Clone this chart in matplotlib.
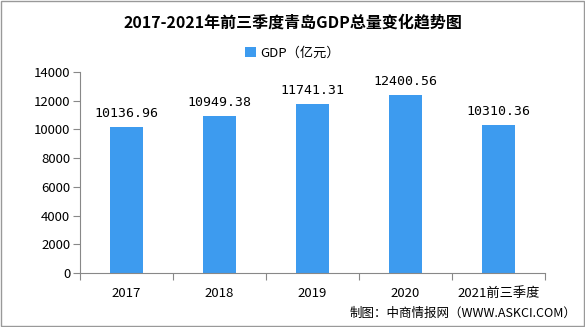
import matplotlib.pyplot as plt
import numpy as np

plt.rcParams['font.family'] = ['Noto Sans CJK SC', 'DejaVu Sans']

years = ["2017", "2018", "2019", "2020", "2021前三季度"]
gdp = [10136.96, 10949.38, 11741.31, 12400.56, 10310.36]
yticks = np.arange(0, 14001, 2000)

fig = plt.figure(figsize=(5.85, 3.27), dpi=100)
ax = fig.add_axes([0.1368, 0.165, 0.7948, 0.615])

x = np.arange(len(years))
bars = ax.bar(x, gdp, width=0.36, color="#3d9bef", label="GDP（亿元）")

for xi, v in zip(x, gdp):
    ax.text(xi, v + 500, f"{v:.2f}", ha="center", va="bottom", fontsize=9.5,
            family=["DejaVu Sans Mono"])

ax.set_xlim(-0.5, len(years) - 0.5)
ax.set_ylim(0, 14000)
ax.set_yticks(yticks)
ax.set_yticklabels([str(t) for t in yticks], fontsize=9.5)
ax.set_xticks(np.arange(len(years) + 1) - 0.5, minor=False)
ax.set_xticklabels([])
ax.set_xticks(x, minor=True)
ax.set_xticklabels(years, minor=True, fontsize=9.5)
ax.tick_params(axis="x", which="minor", length=0, pad=10)
ax.tick_params(axis="x", which="major", length=5, direction="out", color="#888888")
ax.tick_params(axis="y", length=5, direction="out", color="#888888", pad=2)

for s in ["top", "right"]:
    ax.spines[s].set_visible(False)
for s in ["left", "bottom"]:
    ax.spines[s].set_color("#888888")

fig.text(0.5, 0.93, "2017-2021年前三季度青岛GDP总量变化趋势图", ha="center", va="center",
         fontsize=11.5, fontweight="bold")
fig.legend(handles=[bars], loc="center", bbox_to_anchor=(0.5, 0.838), frameon=False,
           fontsize=9.5, handlelength=0.8, handleheight=0.8, handletextpad=0.3)
fig.text(0.985, 0.043, "制图：中商情报网（WWW.ASKCI.COM）", ha="right", va="center", fontsize=9)

fig.patches.append(plt.Rectangle((0.002, 0.003), 0.996, 0.994, transform=fig.transFigure,
                                 fill=False, edgecolor="#999999", linewidth=1))

fig.savefig("out.png", dpi=100)
